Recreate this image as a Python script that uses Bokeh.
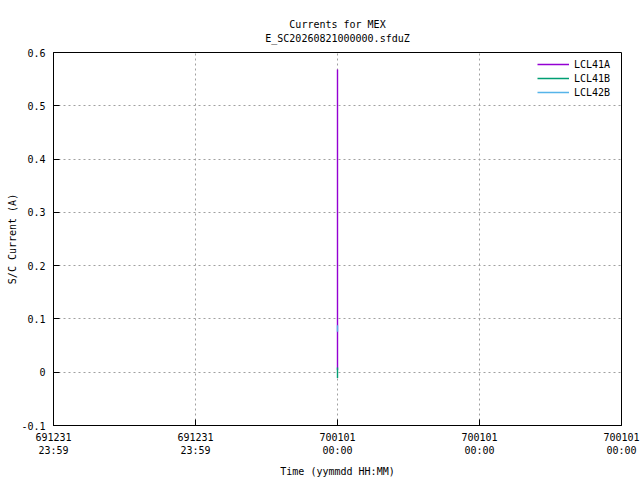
from bokeh.plotting import figure
from bokeh.models import Title, FixedTicker, Legend, LegendItem, Range1d
from bokeh.embed import file_html
from bokeh.resources import INLINE

# ---- data (time in seconds relative to 1970-01-01 00:00, values in A) ----
lcl41a_t = [0.0, 0.0]
lcl41a_v = [0.004, 0.568]
lcl41b_t = [0.0, 0.0]
lcl41b_v = [-0.011, 0.009]
lcl42b_t = [0.0, 0.0]
lcl42b_v = [0.076, 0.088]

x_ticks = [-1.0, -0.5, 0.0, 0.5, 1.0]
x_tick_labels = ["691231\n23:59", "691231\n23:59", "700101\n00:00", "700101\n00:00", "700101\n00:00"]
y_ticks = [-0.1, 0.0, 0.1, 0.2, 0.3, 0.4, 0.5, 0.6]
y_tick_labels = ["-0.1", "0", "0.1", "0.2", "0.3", "0.4", "0.5", "0.6"]
title_lines = ["Currents for MEX", "E_SC20260821000000.sfduZ"]

FONT = "DejaVu Sans Mono"
FS = "10px"

# centre each title line inside the (monospace) multi-line title block
w = max(len(s) for s in title_lines)
centred = ["\u00a0" * ((w - len(s)) // 2) + s for s in title_lines]

p = figure(width=640, height=480, output_backend="svg", toolbar_location=None,
           x_range=Range1d(-1.0, 1.0), y_range=Range1d(-0.1, 0.6),
           min_border_left=53, min_border_right=19, min_border_top=52, min_border_bottom=55)
p.title = Title(text="\n".join(centred), align="center", text_font=FONT,
                text_font_size=FS, text_font_style="normal", text_color="black",
                standoff=17, text_line_height=1.25)

LW = 1.4
r1 = p.line(lcl41a_t, lcl41a_v, line_color="#9400D3", line_width=LW)
r2 = p.line(lcl41b_t, lcl41b_v, line_color="#009E73", line_width=LW)
r3 = p.line(lcl42b_t, lcl42b_v, line_color="#56B4E9", line_width=LW)

p.xaxis.ticker = FixedTicker(ticks=x_ticks)
p.xaxis.major_label_overrides = {t: l for t, l in zip(x_ticks, x_tick_labels)}
p.yaxis.ticker = FixedTicker(ticks=y_ticks)
p.yaxis.major_label_overrides = {t: l for t, l in zip(y_ticks, y_tick_labels)}

for ax in (p.xaxis[0], p.yaxis[0]):
    ax.major_label_text_font = FONT
    ax.major_label_text_font_size = FS
    ax.axis_label_text_font = FONT
    ax.axis_label_text_font_size = FS
    ax.axis_label_text_font_style = "normal"
    ax.axis_label_text_color = "black"
    ax.major_tick_in = 6
    ax.major_tick_out = 0
    ax.minor_tick_line_color = None
    ax.axis_line_color = "black"
    ax.major_tick_line_color = "black"
    ax.major_label_text_color = "black"

p.xaxis.axis_label = "Time (yymmdd HH:MM)"
p.yaxis.axis_label = "S/C Current (A)"
p.xaxis.major_label_standoff = 6
p.xaxis.axis_label_standoff = 7
p.yaxis.major_label_standoff = 8
p.yaxis.axis_label_standoff = 0

p.outline_line_color = "black"
p.outline_line_alpha = 1.0
p.xgrid.grid_line_color = "#a0a0a0"
p.ygrid.grid_line_color = "#a0a0a0"
p.xgrid.grid_line_dash = "2 3"
p.ygrid.grid_line_dash = "2 3"
p.xgrid.ticker = FixedTicker(ticks=x_ticks)
p.ygrid.ticker = FixedTicker(ticks=y_ticks)

legend = Legend(items=[LegendItem(label="LCL41A", renderers=[r1]),
                       LegendItem(label="LCL41B", renderers=[r2]),
                       LegendItem(label="LCL42B", renderers=[r3])],
                location="top_right", border_line_color=None,
                background_fill_alpha=0.0, label_text_font=FONT,
                label_text_font_size=FS, label_text_color="black",
                glyph_width=32, glyph_height=14, label_width=42,
                label_height=14, spacing=0, padding=2, margin=5)
p.add_layout(legend)

open("out.html", "w").write(file_html(p, INLINE))
